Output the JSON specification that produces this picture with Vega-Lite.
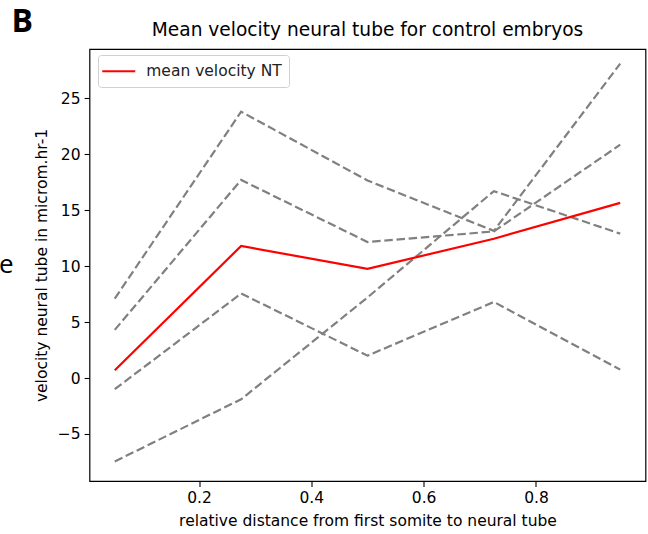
{
  "$schema": "https://vega.github.io/schema/vega-lite/v6.json",
  "width": 556,
  "height": 432,
  "autosize": {"type": "none"},
  "padding": {"left": 89.5, "top": 49, "right": 2.5, "bottom": 53},
  "background": "white",
  "config": {
    "view": {"stroke": "black", "strokeWidth": 1.2},
    "font": "DejaVu Sans",
    "axis": {
      "grid": false,
      "domain": false,
      "tickColor": "black",
      "tickSize": 5.4,
      "tickWidth": 1.1,
      "labelPadding": 4,
      "labelFontSize": 15.5,
      "labelColor": "black",
      "labelFont": "DejaVu Sans",
      "titleFont": "DejaVu Sans",
      "titleFontSize": 15.5,
      "titleFontWeight": "normal",
      "titleColor": "black"
    }
  },
  "title": {
    "text": "Mean velocity neural tube for control embryos",
    "font": "DejaVu Sans",
    "fontSize": 18.6,
    "fontWeight": "normal",
    "color": "black",
    "frame": "group",
    "anchor": "middle",
    "offset": 9,
    "dy": 42
  },
  "datasets": {
    "individual": [
      {"series": "embryo 1", "x": 0.05, "v": 7.1},
      {"series": "embryo 1", "x": 0.275, "v": 23.8},
      {"series": "embryo 1", "x": 0.5, "v": 17.65},
      {"series": "embryo 1", "x": 0.725, "v": 13.15},
      {"series": "embryo 1", "x": 0.95, "v": 28.1},
      {"series": "embryo 2", "x": 0.05, "v": 4.3},
      {"series": "embryo 2", "x": 0.275, "v": 17.7},
      {"series": "embryo 2", "x": 0.5, "v": 12.15},
      {"series": "embryo 2", "x": 0.725, "v": 13.1},
      {"series": "embryo 2", "x": 0.95, "v": 20.85},
      {"series": "embryo 3", "x": 0.05, "v": -1.0},
      {"series": "embryo 3", "x": 0.275, "v": 7.55},
      {"series": "embryo 3", "x": 0.5, "v": 2.0},
      {"series": "embryo 3", "x": 0.725, "v": 6.8},
      {"series": "embryo 3", "x": 0.95, "v": 0.75},
      {"series": "embryo 4", "x": 0.05, "v": -7.45},
      {"series": "embryo 4", "x": 0.275, "v": -1.9},
      {"series": "embryo 4", "x": 0.5, "v": 7.2},
      {"series": "embryo 4", "x": 0.725, "v": 16.7},
      {"series": "embryo 4", "x": 0.95, "v": 12.9}
    ],
    "mean": [
      {"label": "mean velocity NT", "x": 0.05, "v": 0.7},
      {"label": "mean velocity NT", "x": 0.275, "v": 11.8},
      {"label": "mean velocity NT", "x": 0.5, "v": 9.75},
      {"label": "mean velocity NT", "x": 0.725, "v": 12.45},
      {"label": "mean velocity NT", "x": 0.95, "v": 15.65}
    ],
    "panel": [
      {"mark_text": "B"}
    ],
    "fragment": [
      {"mark_text": "e"}
    ]
  },
  "layer": [
    {
      "data": {"name": "individual"},
      "mark": {"type": "line", "color": "#808080", "strokeWidth": 2.2, "strokeDash": [8.5, 3.7]},
      "encoding": {
        "x": {
          "field": "x",
          "type": "quantitative",
          "scale": {"domain": [0.005, 0.995], "nice": false, "zero": false},
          "axis": {
            "title": "relative distance from first somite to neural tube",
            "values": [0.2, 0.4, 0.6, 0.8],
            "format": ".1f",
            "titlePadding": 8
          }
        },
        "y": {
          "field": "v",
          "type": "quantitative",
          "scale": {"domain": [-9.2, 29.4], "nice": false, "zero": false},
          "axis": {
            "title": "velocity neural tube in microm.hr-1",
            "values": [-5, 0, 5, 10, 15, 20, 25],
            "format": "d",
            "titlePadding": 8
          }
        },
        "detail": {"field": "series", "type": "nominal"}
      }
    },
    {
      "data": {"name": "mean"},
      "mark": {"type": "line", "strokeWidth": 2.2},
      "encoding": {
        "x": {"field": "x", "type": "quantitative"},
        "y": {"field": "v", "type": "quantitative"},
        "color": {
          "field": "label",
          "type": "nominal",
          "scale": {"range": ["red"]},
          "legend": {
            "title": null,
            "orient": "none",
            "legendX": 8.5,
            "legendY": 6,
            "symbolType": "M-2,0H2",
            "symbolSize": 272,
            "symbolOffset": 4.5,
            "symbolStrokeWidth": 2.2,
            "labelFont": "DejaVu Sans",
            "labelFontSize": 15.5,
            "labelColor": "#222222",
            "labelOffset": 18,
            "strokeColor": "#d0d0d0",
            "fillColor": "white",
            "cornerRadius": 3,
            "padding": 6.75
          }
        }
      }
    },
    {
      "data": {"name": "panel"},
      "mark": {"type": "text", "clip": false, "font": "Open Sans", "fontWeight": "bold", "fontSize": 32, "align": "left", "baseline": "alphabetic", "fill": "black"},
      "encoding": {
        "x": {"datum": -0.134, "type": "quantitative"},
        "y": {"datum": 30.9, "type": "quantitative"},
        "text": {"field": "mark_text", "type": "nominal"}
      }
    },
    {
      "data": {"name": "fragment"},
      "mark": {"type": "text", "clip": false, "font": "Open Sans", "fontSize": 26, "align": "left", "baseline": "alphabetic", "fill": "black"},
      "encoding": {
        "x": {"datum": -0.156, "type": "quantitative"},
        "y": {"datum": 9.4, "type": "quantitative"},
        "text": {"field": "mark_text", "type": "nominal"}
      }
    }
  ]
}
